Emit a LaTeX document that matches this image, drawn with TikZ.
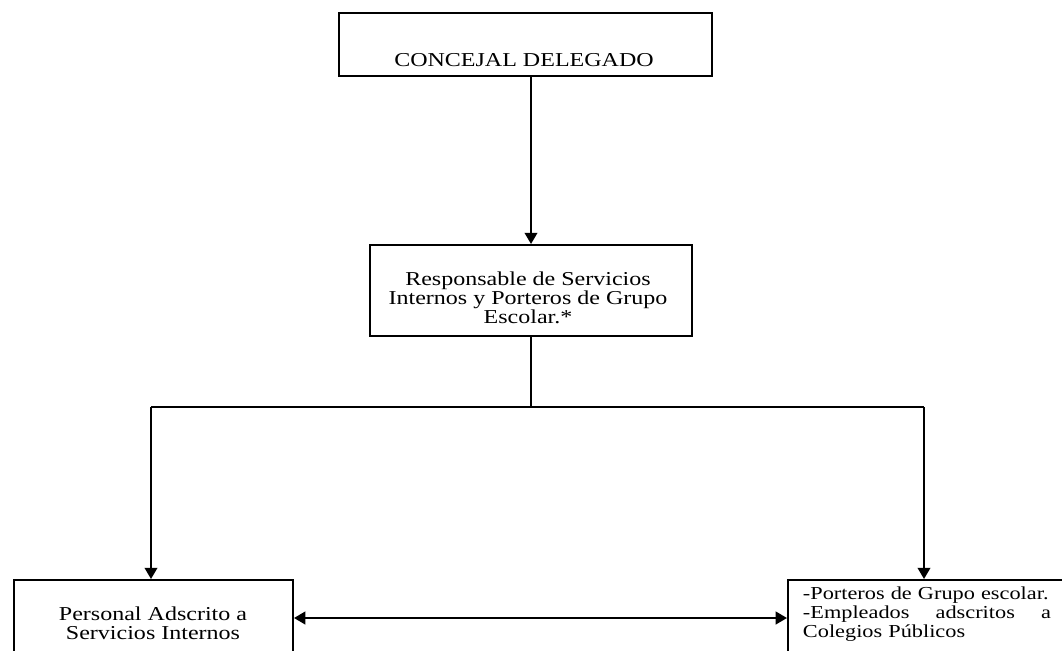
\documentclass[tikz,border=0pt]{standalone}
\usepackage{fontspec}
\setmainfont{Liberation Serif}[FakeStretch=1.22]
\usetikzlibrary{arrows.meta}

\begin{document}
\begin{tikzpicture}[x=.025cm, y=-.025cm,
  box/.style={draw, line width=1.4pt, inner sep=0pt},
  lbl/.style={font=\fontsize{14}{13.5}\selectfont, inner sep=0pt},
  link/.style={line width=1.4pt},
  >={Triangle[length=8pt,width=9pt]}]
\useasboundingbox (0,0) rectangle (1062,650);
\clip (0,0) rectangle (1062,650);

\node[box, minimum width=9.325cm, minimum height=1.575cm] (concejal) at (525.5,44.5) {};
\node[lbl] (concejalTxt) at (524,60) {CONCEJAL DELEGADO};

\node[box, minimum width=8.05cm, minimum height=2.275cm] (responsable) at (531,290.5) {};
\node[lbl, align=center] (responsableTxt) at (528,298) {Responsable de Servicios\\Internos y Porteros de Grupo\\Escolar.*};

\node[box, minimum width=6.975cm, minimum height=1.9cm] (personal) at (153.5,618) {};
\node[lbl, align=center] (personalTxt) at (153,623) {Personal Adscrito a\\Servicios Internos};

\node[box, minimum width=7.05cm, minimum height=1.9cm] (porteros) at (929,618) {};
\node[lbl, font=\fontsize{13}{13.5}\selectfont, align=left, text width=6.2cm] (porterosTxt) at (927,614) {\mbox{-Porteros de Grupo escolar.}\\-Empleados\hfill adscritos\hfill a\\Colegios P\'ublicos};

\coordinate (split) at (responsable.south |- 0,407);
\coordinate (splitL) at (151,407);
\coordinate (splitR) at (924,407);

\draw[link, ->] (concejal.south -| responsable.north) -- (responsable.north);
\draw[link] (responsable.south) -- (split);
\draw[link] (splitL) -- (splitR);
\draw[link, ->] (splitL) -- (splitL |- personal.north);
\draw[link, ->] (splitR) -- (splitR |- porteros.north);
\draw[link, <->] (personal.east) -- (porteros.west);
\end{tikzpicture}
\end{document}
